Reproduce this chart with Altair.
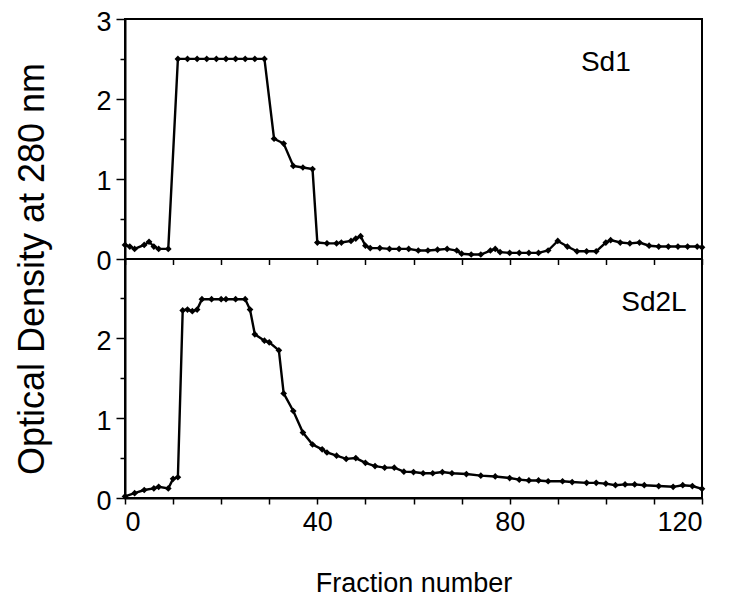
import altair as alt
import pandas as pd

# ---- data ----
panel_names = ["Sd1", "Sd2L"]

sd1_fraction = [0, 1, 2, 4, 5, 6, 7, 9,
                11, 13, 15, 17, 19, 21, 23, 25, 27, 29,
                31, 33, 35, 37, 39,
                40, 42, 44, 45, 47, 48, 49, 50,
                51, 53, 55, 57, 59,
                61, 63, 65, 67, 69,
                70, 72, 74, 76, 77, 78,
                80, 82, 84, 86, 88,
                90, 92, 94, 96, 98,
                100, 101, 103, 105, 107, 109, 111, 113, 115, 117, 119, 120]
sd1_od = [0.17, 0.15, 0.12, 0.17, 0.21, 0.15, 0.12, 0.12,
          2.5, 2.5, 2.5, 2.5, 2.5, 2.5, 2.5, 2.5, 2.5, 2.5,
          1.50, 1.44, 1.16, 1.14, 1.12,
          0.20, 0.19, 0.19, 0.20, 0.22, 0.25, 0.28, 0.16,
          0.13, 0.13, 0.12, 0.12, 0.12,
          0.10, 0.10, 0.11, 0.12, 0.10,
          0.06, 0.05, 0.05, 0.10, 0.12, 0.08,
          0.07, 0.07, 0.07, 0.07, 0.10,
          0.22, 0.15, 0.09, 0.09, 0.09,
          0.20, 0.23, 0.20, 0.19, 0.20, 0.16, 0.15, 0.15, 0.15, 0.15, 0.15, 0.14]

sd2l_fraction = [0, 2, 4, 6, 7, 9, 10, 11, 12, 13, 14, 15,
                 16, 18, 20, 21, 23, 25, 26, 27, 29, 30, 32, 33, 35, 37, 39,
                 41, 42, 44, 46, 48, 50, 52, 54, 56, 58, 60, 62, 64, 66, 68,
                 71, 74, 77, 80, 82, 84, 86, 88, 91, 93, 96, 98, 100, 102,
                 104, 106, 108, 111, 114, 116, 118, 120]
sd2l_od = [0.02, 0.06, 0.10, 0.12, 0.14, 0.12, 0.24, 0.26, 2.35, 2.36, 2.34, 2.36,
           2.49, 2.49, 2.49, 2.49, 2.49, 2.49, 2.36, 2.05, 1.97, 1.95, 1.85, 1.31, 1.09, 0.82, 0.67,
           0.61, 0.57, 0.53, 0.49, 0.50, 0.44, 0.40, 0.38, 0.38, 0.33, 0.325, 0.31, 0.31, 0.325, 0.31,
           0.30, 0.28, 0.27, 0.25, 0.23, 0.22, 0.22, 0.21, 0.21, 0.20, 0.19, 0.19, 0.18, 0.16,
           0.17, 0.17, 0.16, 0.15, 0.14, 0.16, 0.15, 0.115]

x_tick_values = list(range(0, 121, 10))
y_major_values = [0, 1, 2, 3, 4, 5, 6]
y_minor_values = [0.5, 1.5, 2.5, 3.5, 4.5, 5.5]
label_fraction = [100, 110]
label_od = [2.45, 2.44]

# ---- tables ----
df = pd.concat([
    pd.DataFrame({"fraction": sd1_fraction, "od": sd1_od, "panel": panel_names[0]}),
    pd.DataFrame({"fraction": sd2l_fraction, "od": sd2l_od, "panel": panel_names[1]}),
], ignore_index=True)
labels_df = pd.DataFrame({"fraction": label_fraction, "od": label_od, "panel": panel_names})

W, H = 577, 479
FONT = "Liberation Sans"
offset_expr = "datum.od + (datum.panel == 'Sd1' ? 3 : 0)"

x_scale = alt.Scale(domain=[0, 120], nice=False, zero=False)
y_scale = alt.Scale(domain=[0, 6], nice=False, zero=True)

x_axis_bottom = alt.Axis(
    orient="bottom", values=x_tick_values,
    labelExpr="datum.value % 40 == 0 ? datum.label : ''",
    tickSize=6, tickWidth=1.5, domainWidth=2,
    labelFontSize=27, labelPadding=5, labelFont=FONT,
    title="Fraction number", titleFont=FONT, titleFontSize=27, titleFontWeight="normal",
    titleY=85, titleBaseline="middle", grid=False,
)
x_axis_mid = alt.Axis(
    orient="bottom", offset=-H / 2, values=x_tick_values, labels=False,
    tickSize=6, tickWidth=1.5, domainWidth=2, title=None, grid=False,
)
y_axis_major = alt.Axis(
    orient="left", values=y_major_values,
    labelExpr="'' + (datum.value >= 3 ? datum.value - 3 : datum.value)",
    tickSize=9, tickWidth=1.5, domainWidth=2,
    labelFontSize=27, labelPadding=5, labelFont=FONT, labelOffset=3,
    title="Optical Density at 280 nm", titleFont=FONT, titleFontSize=36,
    titleFontWeight="normal", titleX=-93, titleY=H / 2 + 10,
    titleAlign="center", titleBaseline="middle", titleAngle=270, grid=False,
)
y_axis_minor = alt.Axis(
    orient="left", values=y_minor_values, labels=False, domain=False,
    tickSize=5, tickWidth=1.5, title=None, grid=False,
)

lines = alt.Chart(df).transform_calculate(ypos=offset_expr).mark_line(
    color="black", strokeWidth=2.4,
    point=alt.OverlayMarkDef(shape="diamond", size=45, filled=True, color="black"),
).encode(
    x=alt.X("fraction:Q", scale=x_scale, axis=x_axis_bottom),
    y=alt.Y("ypos:Q", scale=y_scale, axis=y_axis_major),
    detail="panel:N",
)

texts = alt.Chart(labels_df).transform_calculate(ypos=offset_expr).mark_text(
    font=FONT, fontSize=28, color="black", align="center", baseline="middle",
).encode(
    x=alt.X("fraction:Q", axis=x_axis_mid),
    y=alt.Y("ypos:Q", axis=y_axis_minor),
    text="panel:N",
)

chart = alt.layer(lines, texts).resolve_axis(x="independent", y="independent").properties(
    width=W, height=H,
    padding={"left": 117, "top": 11, "right": 20, "bottom": 104},
    autosize=alt.AutoSizeParams(type="none"),
    background="white",
).configure_view(
    stroke="black", strokeWidth=2,
).configure_axis(
    domainColor="black", tickColor="black", labelColor="black", titleColor="black",
)

chart.save("out.html", embed_options={"renderer": "svg", "actions": False})
